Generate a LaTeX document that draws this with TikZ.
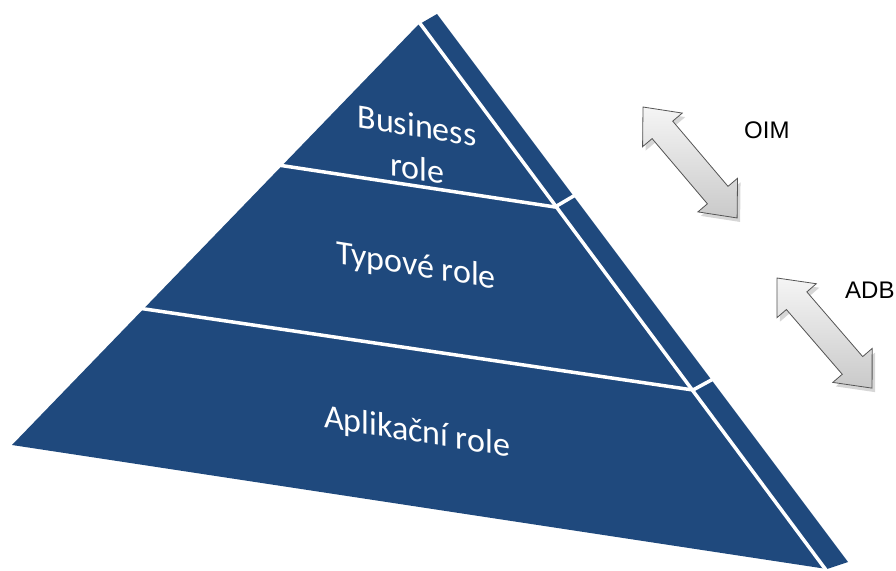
\documentclass[tikz,border=0pt]{standalone}
\usepackage{fontspec}
\setmainfont{Carlito}
\newfontfamily\arialfont{Liberation Sans}
\definecolor{pyrblue}{RGB}{31,73,125}
\definecolor{arrowedge}{RGB}{85,85,85}
\tikzset{
  seam/.style={white, line width=3.5pt},
  pyrtext/.style={text=white, font=\fontsize{34}{43}\selectfont, yslant=-0.16, anchor=base, inner sep=0pt},
  sidelabel/.style={font=\arialfont\fontsize{24}{28}\selectfont, anchor=base west, inner sep=0pt, text=black},
  dblarrow/.pic={\path[pic actions] (0,0) -- (30,26) -- (30,13.5) -- (115.5,13.5) -- (115.5,26) -- (145.5,0) -- (115.5,-26) -- (115.5,-13.5) -- (30,-13.5) -- (30,-26) -- cycle;},
  arrowbody/.style={draw=arrowedge, line width=0.8pt, line join=miter, top color=gray!8, bottom color=gray!42},
  arrowshade/.style={fill=black, opacity=0.16, draw=none}
}
\begin{document}
\begin{tikzpicture}[x=1pt,y=-1pt]
\useasboundingbox (0,0) rectangle (896,570);
% pyramid body
\fill[pyrblue] (418,25) -- (437,14) -- (848,562) -- (827,569) -- (12,445) -- cycle;
% seams between faces and layers
\draw[seam] (419,22) -- (826,570);
\draw[seam] (278,165) -- (555,207) -- (577,194);
\draw[seam] (138,308) -- (693,390) -- (715,378);
% labels on the pyramid
\node[pyrtext, align=center] (business) at (417,180) {Business\\role};
\node[pyrtext] (typove) at (416,276) {Typové role};
\node[pyrtext] (aplikacni) at (417,442) {Aplikační role};
% block arrows
\pic[rotate=-49.7, arrowshade] (shadowA) at (646,111) {dblarrow};
\pic[rotate=-49.7, arrowbody] (arrowA) at (643,107) {dblarrow};
\pic[rotate=-49.2, arrowshade] (shadowB) at (780,282) {dblarrow};
\pic[rotate=-49.2, arrowbody] (arrowB) at (777,278) {dblarrow};
% side labels
\node[sidelabel] (oim) at (744,138) {OIM};
\node[sidelabel] (adb) at (845,298) {ADB};
\end{tikzpicture}
\end{document}
